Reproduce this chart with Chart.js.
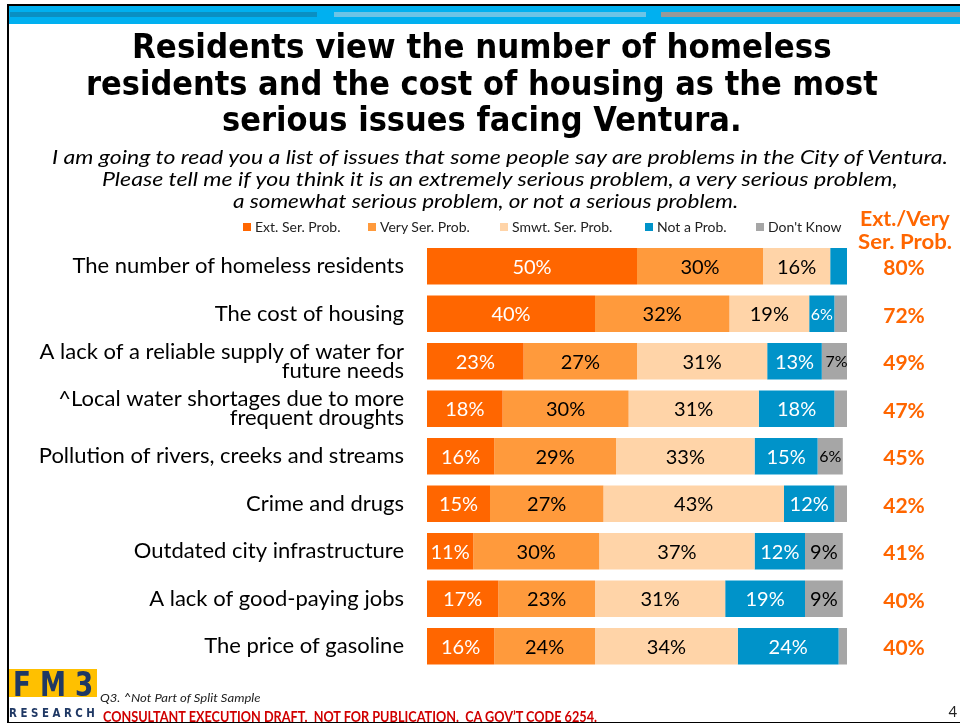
<!DOCTYPE html>
<html>
<head>
<meta charset="utf-8">
<script src="https://cdn.jsdelivr.net/npm/chart.js@4.4.1/dist/chart.umd.min.js"></script>
<style>
  body { margin: 0; background: #fff; }
  #slide { position: relative; width: 960px; height: 723px; overflow: hidden; background: #fff; font-family: Lato, sans-serif; }
  #frame { position: absolute; left: 7px; top: 4px; width: 1000px; height: 716px; border-left: 2px solid #000; border-top: 2px solid #000; border-bottom: 2px solid #000; }
  .band { position: absolute; }
  .txt { position: absolute; white-space: pre; transform-origin: 0 50%; line-height: 1; }
  .title { font-family: "DejaVu Sans", sans-serif; font-weight: bold; font-size: 34px; color: #000; }
  .sub { font-style: italic; font-size: 19.5px; color: #000; }
  .leg { font-size: 14px; color: #222; }
  .sq { position: absolute; width: 8px; height: 8px; }
  .hdr { font-weight: bold; font-size: 21px; color: #ff6600; }
  canvas { position: absolute; left: 0; top: 0; }
</style>
</head>
<body>
<div id="slide">
  <div id="frame"></div>
  <div class="band" style="left:9px;top:6px;width:951px;height:18px;background:#00b0f0"></div>
  <div class="band" style="left:10px;top:12px;width:307px;height:5px;background:#0a8fc2"></div>
  <div class="band" style="left:334px;top:12px;width:312px;height:5px;background:#6cc4e6"></div>
  <div class="band" style="left:661px;top:12px;width:299px;height:5px;background:#999999"></div>
  <canvas id="chart" width="960" height="723"></canvas>
</div>
<script>
// survey categories (top to bottom)
const issues = [
  "The number of homeless residents",
  "The cost of housing",
  ["A lack of a reliable supply of water for", "future needs"],
  ["^Local water shortages due to more", "frequent droughts"],
  "Pollution of rivers, creeks and streams",
  "Crime and drugs",
  "Outdated city infrastructure",
  "A lack of good-paying jobs",
  "The price of gasoline"
];

const seriesNames = ["Ext. Ser. Prob.", "Very Ser. Prob.", "Smwt. Ser. Prob.", "Not a Prob.", "Don't Know"];
const seriesColors = ["#ff6600", "#ff9a3c", "#ffd4a8", "#0093c9", "#a6a6a6"];
const labelColors = ["#ffffff", "#000000", "#000000", "#ffffff", "#000000"];

const extSerious  = [50, 40, 23, 18, 16, 15, 11, 17, 16];
const verySerious = [30, 32, 27, 30, 29, 27, 30, 23, 24];
const smwtSerious = [16, 19, 31, 31, 33, 43, 37, 31, 34];
const notProblem  = [4, 6, 13, 18, 15, 12, 12, 19, 24];
const dontKnow    = [0, 3, 7, 3, 6, 3, 9, 9, 2];

const extVeryTotal = [80, 72, 49, 47, 45, 42, 41, 40, 40];

const titleLines = [
  "Residents view the number of homeless",
  "residents and the cost of housing as the most",
  "serious issues facing Ventura."
];
const questionLines = [
  "I am going to read you a list of issues that some people say are problems in the City of Ventura.",
  "Please tell me if you think it is an extremely serious problem, a very serious problem,",
  "a somewhat serious problem, or not a serious problem."
];

const slide = document.getElementById("slide");

// place a text line, squeezed to a given width, centred or left aligned
function putText(text, cls, cx, cy, width, align, css) {
  const el = document.createElement("div");
  el.className = "txt " + cls;
  if (css) el.style.cssText = css;
  el.textContent = text;
  slide.appendChild(el);
  const w = el.offsetWidth, h = el.offsetHeight;
  const k = width ? width / w : 1;
  const left = align === "left" ? cx : cx - (w * k) / 2;
  el.style.left = left + "px";
  el.style.top = (cy - h / 2) + "px";
  el.style.transform = "scaleX(" + k + ")";
  return el;
}

const valueLabels = {
  id: "valueLabels",
  afterDatasetsDraw(chart) {
    const ctx = chart.ctx;
    ctx.save();
    ctx.textAlign = "center";
    ctx.textBaseline = "middle";
    chart.data.datasets.forEach((ds, i) => {
      chart.getDatasetMeta(i).data.forEach((bar, j) => {
        const v = ds.data[j];
        if (v < 5) return;
        ctx.fillStyle = labelColors[i];
        ctx.font = (v < 8 ? 16 : 20) + "px Lato";
        ctx.fillText(v + "%", (bar.base + bar.x) / 2, bar.y + 1);
      });
    });
    // Ext./Very combined column
    ctx.fillStyle = "#ff6600";
    ctx.font = "bold 21px Lato";
    chart.getDatasetMeta(0).data.forEach((bar, j) => {
      ctx.fillText(extVeryTotal[j] + "%", chart.chartArea.right + 57, bar.y + 2);
    });
    ctx.restore();
  }
};

function draw() {
  titleLines.forEach((t, i) => putText(t, "title", 482, 46 + i * 36.5, [700, 792, 520][i]));
  questionLines.forEach((t, i) => putText(t, "sub", [500, 500, 485][i], 157 + i * 22, [896, 796, 505][i]));

  const legX = [243, 368, 500, 645, 756];
  seriesNames.forEach((n, i) => {
    const sq = document.createElement("div");
    sq.className = "sq";
    sq.style.left = legX[i] + "px";
    sq.style.top = "223px";
    sq.style.background = seriesColors[i];
    slide.appendChild(sq);
    putText(n, "leg", legX[i] + 12, 227, null, "left");
  });

  putText("Ext./Very", "hdr", 905, 217, 90);
  putText("Ser. Prob.", "hdr", 905, 240, 94);

  // footer
  const logo = document.createElement("div");
  logo.style.cssText = "position:absolute;left:9px;top:669px;width:88px;height:28px;background:#ffc000";
  slide.appendChild(logo);
  putText("F M 3", "", 53, 684, 80, null,
    "font-family:'DejaVu Sans';font-weight:bold;font-size:33px;color:#1f3864;");
  putText("R E S E A R C H", "", 52, 713, 86, null,
    "font-family:'DejaVu Sans';font-weight:bold;font-size:12px;color:#1f3864;");
  putText("Q3. ^Not Part of Split Sample", "", 100, 698, 160, "left",
    "font-style:italic;font-size:12px;color:#222;");
  putText("CONSULTANT EXECUTION DRAFT.  NOT FOR PUBLICATION.  CA GOV\u2019T CODE 6254.", "", 103, 716, 494, "left",
    "font-weight:bold;font-size:15px;color:#d00000;text-decoration:underline;");
  putText("4", "", 953, 711, null, null, "font-size:15px;color:#222;");

  new Chart(document.getElementById("chart"), {
    type: "bar",
    data: {
      labels: issues,
      datasets: [extSerious, verySerious, smwtSerious, notProblem, dontKnow].map((d, i) => ({
        label: seriesNames[i],
        data: d,
        backgroundColor: seriesColors[i],
        borderWidth: 0,
        categoryPercentage: 1,
        barPercentage: 0.77
      }))
    },
    options: {
      responsive: false,
      animation: false,
      indexAxis: "y",
      layout: { padding: { top: 242.5, bottom: 53, left: 0, right: 113 } },
      plugins: { legend: { display: false }, tooltip: { enabled: false } },
      scales: {
        x: { stacked: true, min: 0, max: 100, display: false },
        y: {
          stacked: true,
          grid: { display: false, drawTicks: false },
          border: { display: false },
          ticks: { color: "#000", font: { family: "Lato", size: 22, lineHeight: 0.85 }, padding: 23 },
          afterFit: (s) => { s.width = 427; }
        }
      }
    },
    plugins: [valueLabels]
  });
}

Promise.all([
  document.fonts.load("20px Lato"),
  document.fonts.load("bold 20px Lato"),
  document.fonts.load("italic 18px Lato"),
  document.fonts.load("bold 31px 'DejaVu Sans'")
]).then(draw, draw);
</script>
</body>
</html>
